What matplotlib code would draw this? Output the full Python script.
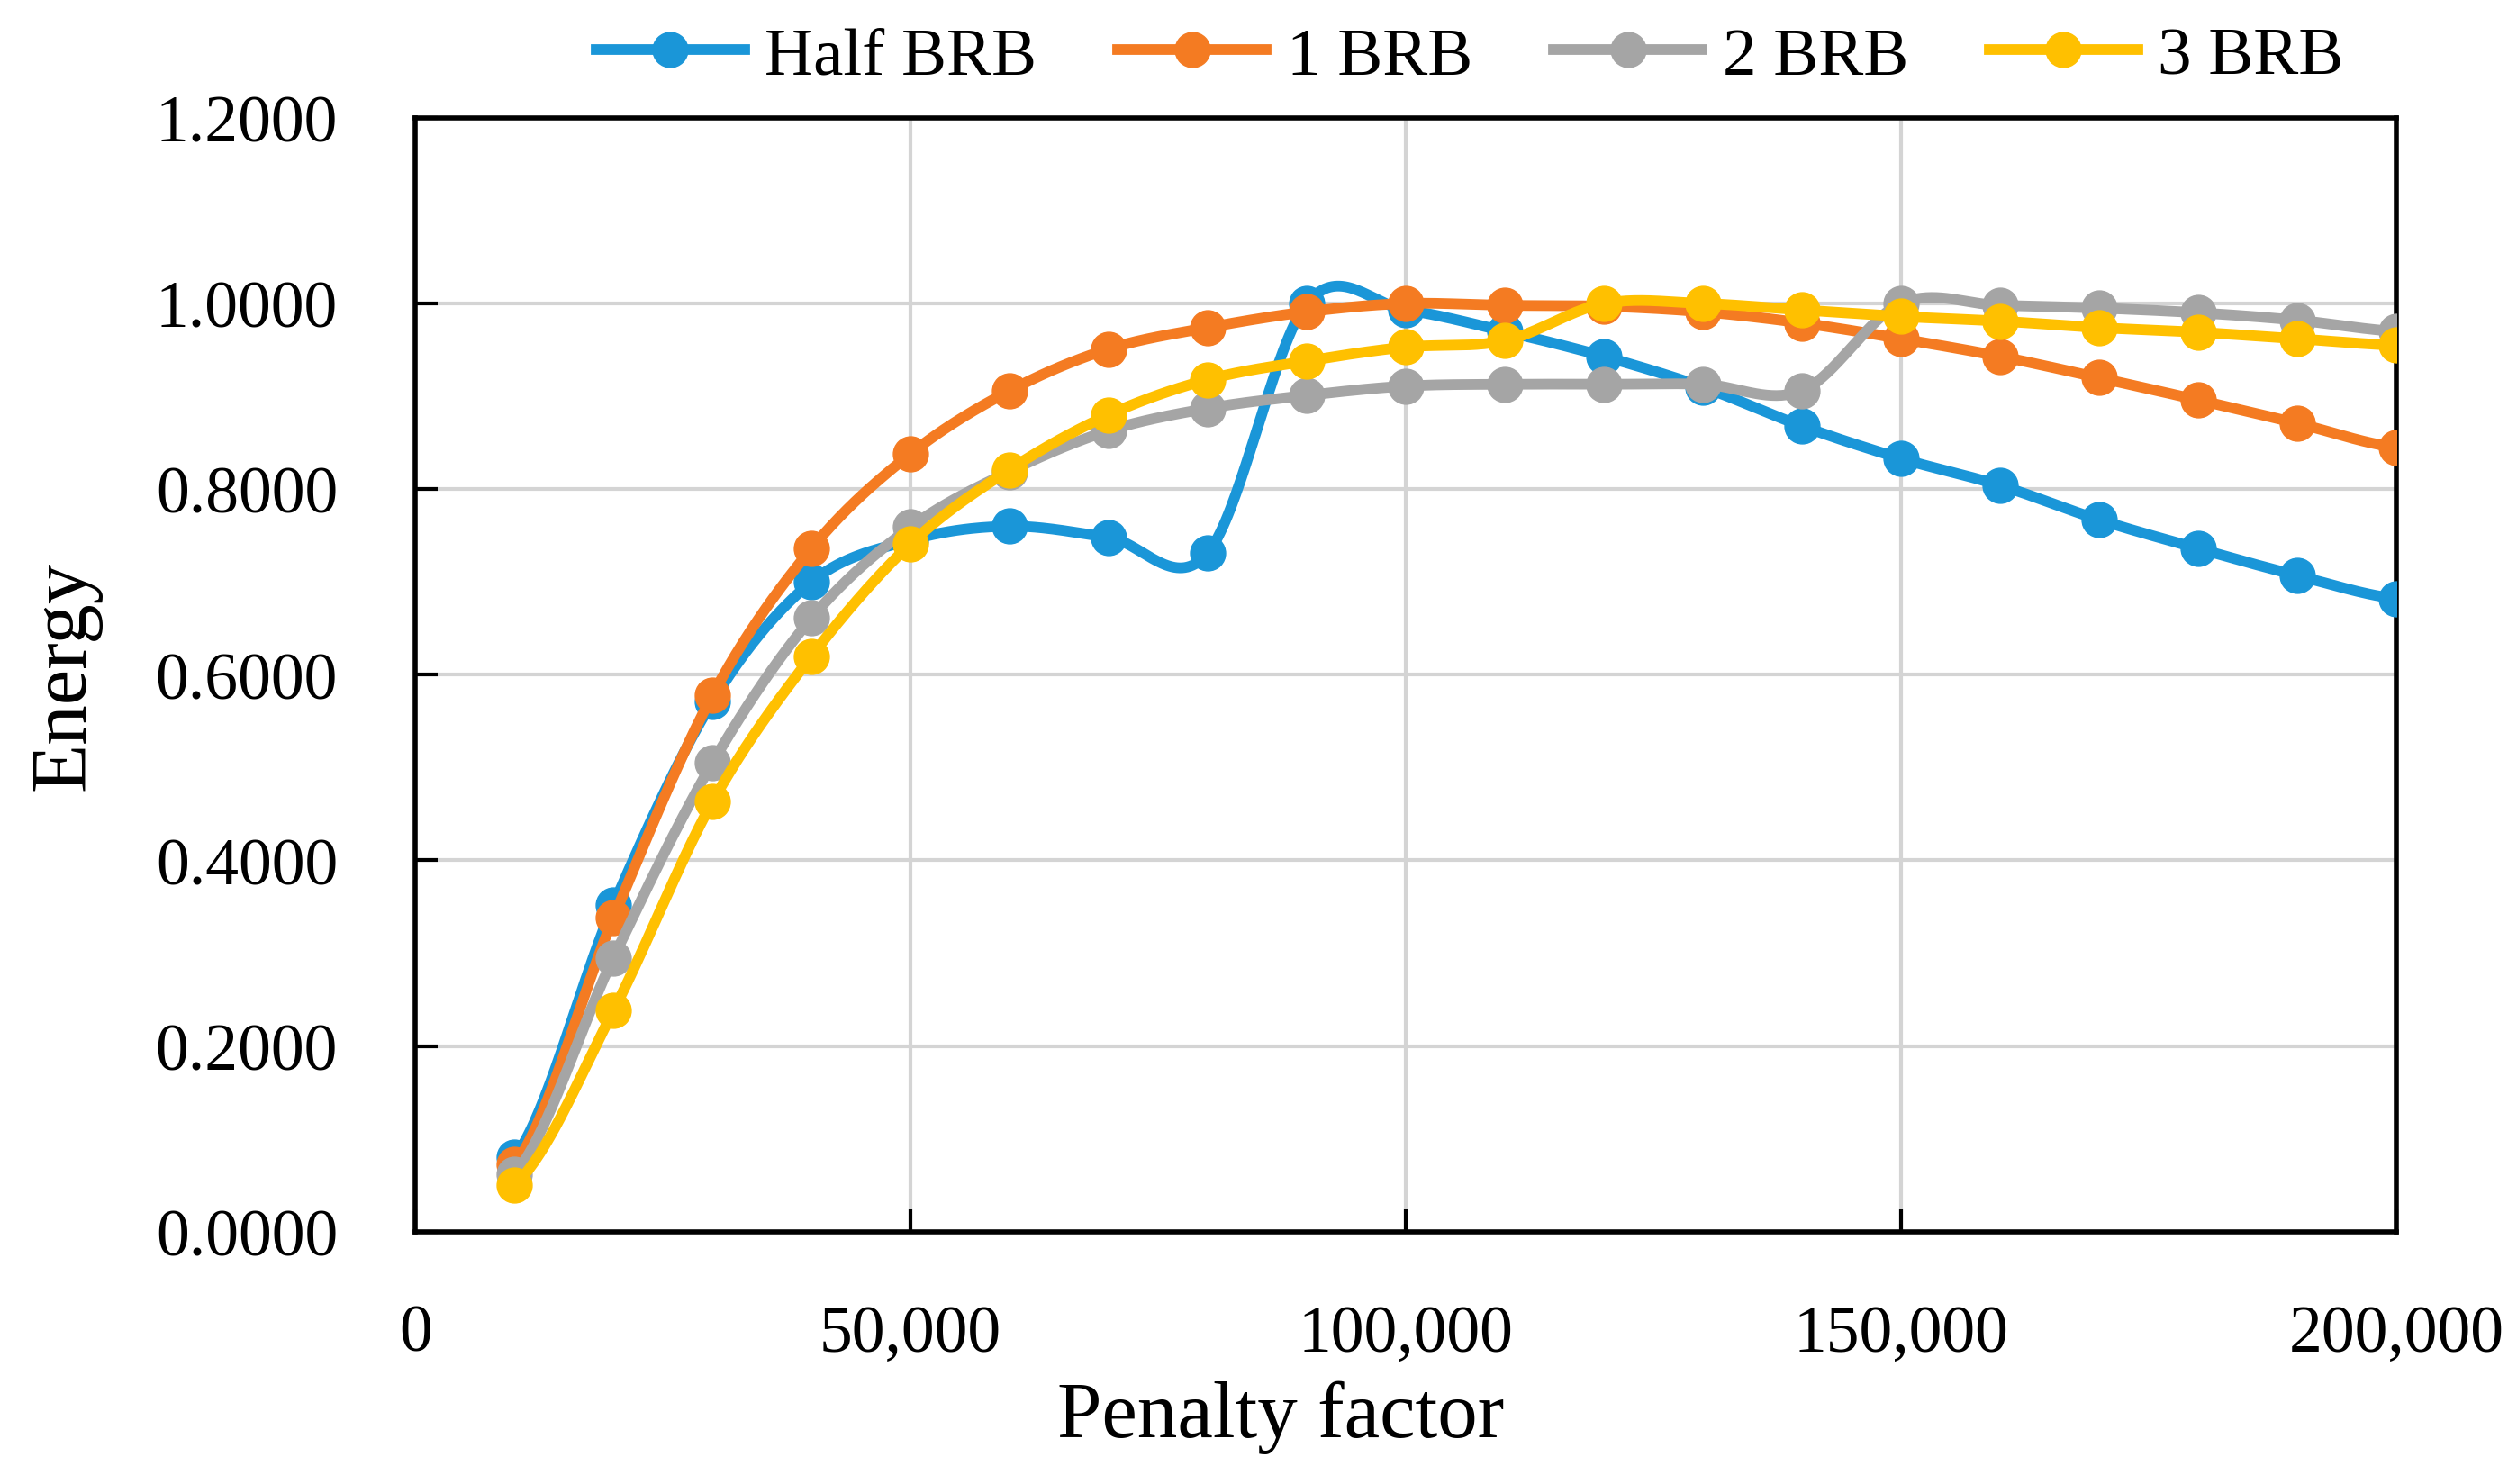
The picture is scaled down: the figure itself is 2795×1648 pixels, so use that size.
import numpy as np
import matplotlib
matplotlib.use('Agg')
import matplotlib.pyplot as plt
from matplotlib.ticker import FuncFormatter

plt.rcParams['font.family'] = ['Liberation Serif', 'DejaVu Serif']

# data
penalty = [10000, 20000, 30000, 40000, 50000, 60000, 70000, 80000, 90000, 100000,
           110000, 120000, 130000, 140000, 150000, 160000, 170000, 180000, 190000, 200000]
half_brb = [0.080, 0.352, 0.571, 0.700, 0.745, 0.760, 0.748, 0.731, 1.000, 0.993,
            0.970, 0.943, 0.910, 0.868, 0.833, 0.804, 0.767, 0.736, 0.707, 0.682]
one_brb = [0.072, 0.338, 0.578, 0.736, 0.838, 0.906, 0.951, 0.974, 0.991, 1.000,
           0.998, 0.997, 0.991, 0.979, 0.962, 0.943, 0.920, 0.896, 0.871, 0.845]
two_brb = [0.062, 0.295, 0.505, 0.661, 0.759, 0.819, 0.863, 0.887, 0.901, 0.911,
           0.913, 0.913, 0.913, 0.906, 1.000, 0.998, 0.995, 0.990, 0.982, 0.970]
three_brb = [0.050, 0.238, 0.463, 0.620, 0.741, 0.821, 0.880, 0.918, 0.938, 0.953,
             0.960, 1.000, 1.000, 0.993, 0.986, 0.981, 0.974, 0.969, 0.962, 0.955]

series = [('Half BRB', half_brb, '#1a96d8'),
          ('1 BRB', one_brb, '#f47b22'),
          ('2 BRB', two_brb, '#a5a5a5'),
          ('3 BRB', three_brb, '#ffc000')]


def smooth(x, y, n=40):
    # Catmull-Rom curve through the points, like Excel's "smoothed line"
    x = np.asarray(x, float)
    y = np.asarray(y, float)
    yp = np.concatenate([[y[0]], y, [y[-1]]])
    xs, ys = [], []
    t = np.linspace(0, 1, n)
    for i in range(len(x) - 1):
        p0, p1 = yp[i + 1], yp[i + 2]
        m0 = (yp[i + 2] - yp[i]) / 2
        m1 = (yp[i + 3] - yp[i + 1]) / 2
        h00 = 2 * t**3 - 3 * t**2 + 1
        h10 = t**3 - 2 * t**2 + t
        h01 = -2 * t**3 + 3 * t**2
        h11 = t**3 - t**2
        xs.append(x[i] + t * (x[i + 1] - x[i]))
        ys.append(h00 * p0 + h10 * m0 + h01 * p1 + h11 * m1)
    return np.concatenate(xs), np.concatenate(ys)


fig = plt.figure(figsize=(27.95, 16.49), dpi=100)
ax = fig.add_axes([0.165, 0.170, 0.787, 0.750])

for name, vals, col in series:
    sx, sy = smooth(penalty, vals)
    ax.plot(sx, sy, color=col, lw=8.5, solid_capstyle='round', zorder=3)
    ax.plot(penalty, vals, 'o', color=col, ms=28, zorder=3)
    ax.plot([], [], '-o', color=col, lw=8.5, ms=28, label=name)

ax.set_xlim(0, 200000)
ax.set_ylim(0, 1.2)
ax.set_xticks([0, 50000, 100000, 150000, 200000])
ax.set_yticks(np.arange(0, 1.21, 0.2))
ax.xaxis.set_major_formatter(FuncFormatter(lambda v, p: '{:,.0f}'.format(v)))
ax.yaxis.set_major_formatter(FuncFormatter(lambda v, p: '{:.4f}'.format(v)))
ax.grid(True, color='#d4d4d4', lw=3, zorder=0)
ax.set_axisbelow(True)
for s in ax.spines.values():
    s.set_linewidth(4)
    s.set_color('black')
ax.tick_params(direction='in', length=18, width=3, labelsize=53)
ax.tick_params(axis='y', pad=62)
ax.tick_params(axis='x', pad=58)

ax.set_xlabel('Penalty factor', fontsize=64, va='center')
ax.xaxis.set_label_coords(0.437, -0.166)
ax.set_ylabel('Energy', fontsize=64, va='center')
ax.yaxis.set_label_coords(-0.177, 0.5)

fig.legend(loc='center', bbox_to_anchor=(0.584, 0.961), ncol=4, frameon=False,
           fontsize=54, handlelength=2.2, handletextpad=0.3, columnspacing=1.2)

fig.savefig('out.png', dpi=100)
